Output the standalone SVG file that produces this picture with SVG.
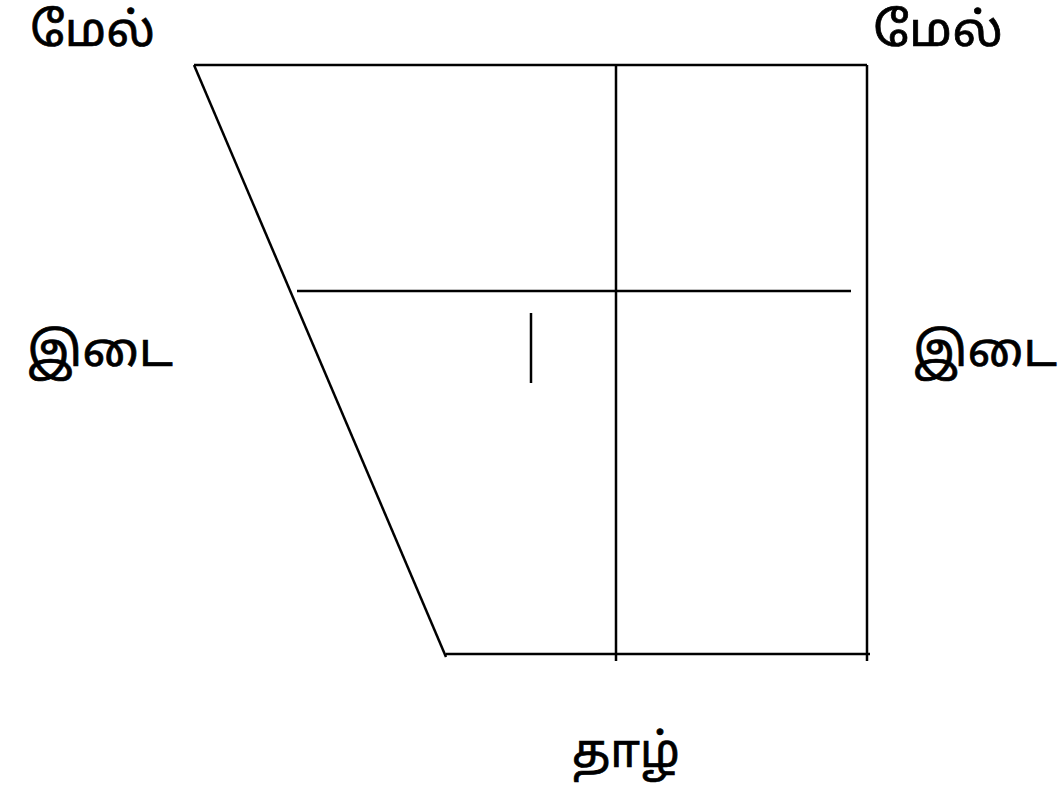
<svg xmlns="http://www.w3.org/2000/svg" width="1059" height="785" viewBox="0 0 1059 785">
<style>
.ln{stroke:#000;stroke-width:2.5;fill:none}
.t{font-family:"Noto Sans Tamil","Lohit Tamil","Latha","Noto Sans",sans-serif;font-size:47px;fill:#000;stroke:#000;stroke-width:0.7}
</style>
<rect width="1059" height="785" fill="#fff"/>
<g id="connectors">
<line class="ln" x1="194" y1="65" x2="867" y2="65"/>
<line class="ln" x1="194" y1="65" x2="446" y2="657"/>
<line class="ln" x1="446" y1="654" x2="870" y2="654"/>
<line class="ln" x1="616" y1="65" x2="616" y2="661"/>
<line class="ln" x1="867" y1="65" x2="867" y2="661"/>
<line class="ln" x1="297" y1="291" x2="851" y2="291"/>
<line class="ln" x1="531" y1="313" x2="531" y2="383"/>
</g>
<g id="label-top-left"><text class="t" x="30" y="46" textLength="125" lengthAdjust="spacingAndGlyphs">மேல்</text></g>
<g id="label-top-right"><text class="t" x="873" y="46" textLength="130" lengthAdjust="spacingAndGlyphs">மேல்</text></g>
<g id="label-mid-left"><text class="t" x="27" y="366" textLength="146" lengthAdjust="spacingAndGlyphs">இடை</text></g>
<g id="label-mid-right"><text class="t" x="913" y="366" textLength="144" lengthAdjust="spacingAndGlyphs">இடை</text></g>
<g id="label-bottom"><text class="t" x="572" y="767" textLength="108" lengthAdjust="spacingAndGlyphs">தாழ்</text></g>
</svg>
